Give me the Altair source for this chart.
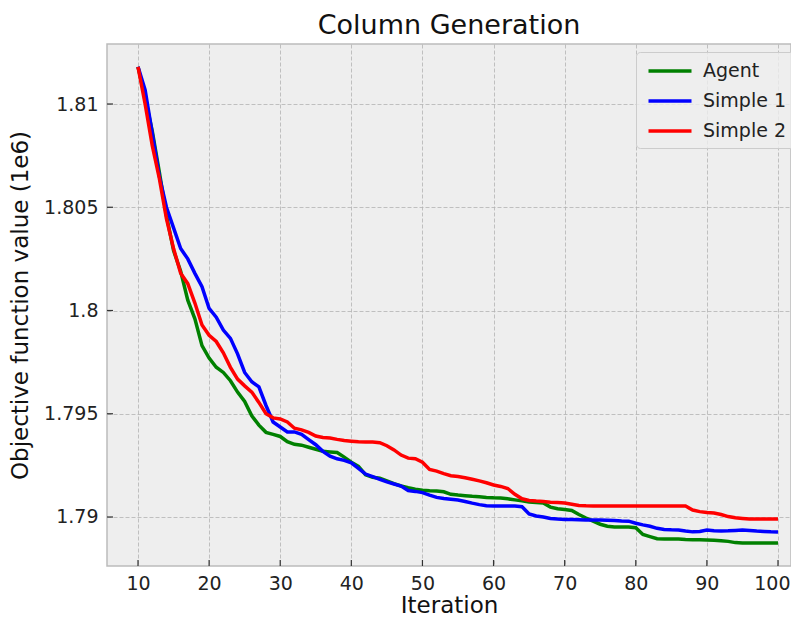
import altair as alt
import pandas as pd

iterations = list(range(10, 101))

agent = [1.81180, 1.81030, 1.80870, 1.80670, 1.80460, 1.80290, 1.80190, 1.80050, 1.79960, 1.79830,
         1.79770, 1.79725, 1.79700, 1.79660, 1.79605, 1.79560, 1.79490, 1.79445, 1.79410, 1.79400,
         1.79390, 1.79365, 1.79352, 1.79348, 1.79338, 1.79328, 1.79318, 1.79315, 1.79312, 1.79290,
         1.79265, 1.79245, 1.79205, 1.79192, 1.79188, 1.79175, 1.79162, 1.79150, 1.79142, 1.79135,
         1.79130, 1.79127, 1.79126, 1.79122, 1.79110, 1.79106, 1.79103, 1.79100, 1.79098, 1.79095,
         1.79093, 1.79092, 1.79088, 1.79083, 1.79078, 1.79073, 1.79070, 1.79068, 1.79048, 1.79040,
         1.79036, 1.79032, 1.79012, 1.78995, 1.78980, 1.78965, 1.78955, 1.78952, 1.78952, 1.78952,
         1.78948, 1.78915, 1.78905, 1.78895, 1.78893, 1.78893, 1.78893, 1.78891, 1.78890, 1.78890,
         1.78889, 1.78887, 1.78885, 1.78882, 1.78876, 1.78874, 1.78874, 1.78874, 1.78874, 1.78874, 1.78874]

simple1 = [1.81180, 1.81068, 1.80860, 1.80650, 1.80500, 1.80400, 1.80300, 1.80250, 1.80180, 1.80115,
           1.80010, 1.79968, 1.79905, 1.79865, 1.79790, 1.79700, 1.79655, 1.79630, 1.79540, 1.79460,
           1.79436, 1.79412, 1.79412, 1.79400, 1.79375, 1.79350, 1.79318, 1.79295, 1.79282, 1.79274,
           1.79262, 1.79235, 1.79208, 1.79195, 1.79182, 1.79170, 1.79160, 1.79150, 1.79128, 1.79124,
           1.79118, 1.79106, 1.79095, 1.79090, 1.79086, 1.79082, 1.79075, 1.79067, 1.79060, 1.79055,
           1.79053, 1.79053, 1.79053, 1.79053, 1.79050, 1.79015, 1.79005, 1.79000, 1.78993, 1.78990,
           1.78988, 1.78988, 1.78987, 1.78986, 1.78985, 1.78985, 1.78984, 1.78983, 1.78981, 1.78980,
           1.78970, 1.78962, 1.78955, 1.78945, 1.78940, 1.78938, 1.78937, 1.78932, 1.78928, 1.78930,
           1.78937, 1.78933, 1.78932, 1.78933, 1.78935, 1.78937, 1.78935, 1.78932, 1.78930, 1.78928, 1.78927]

simple2 = [1.81180, 1.81000, 1.80800, 1.80640, 1.80445, 1.80300, 1.80180, 1.80130, 1.80036, 1.79930,
           1.79880, 1.79850, 1.79795, 1.79725, 1.79668, 1.79635, 1.79605, 1.79555, 1.79500, 1.79480,
           1.79475, 1.79460, 1.79430, 1.79422, 1.79410, 1.79392, 1.79385, 1.79383, 1.79376, 1.79370,
           1.79367, 1.79364, 1.79363, 1.79363, 1.79360, 1.79345, 1.79325, 1.79300, 1.79285, 1.79282,
           1.79265, 1.79230, 1.79222, 1.79210, 1.79200, 1.79196, 1.79190, 1.79183, 1.79175, 1.79166,
           1.79155, 1.79148, 1.79138, 1.79110, 1.79088, 1.79080, 1.79077, 1.79075, 1.79072, 1.79070,
           1.79068, 1.79062, 1.79056, 1.79054, 1.79053, 1.79053, 1.79053, 1.79053, 1.79053, 1.79053,
           1.79053, 1.79053, 1.79053, 1.79053, 1.79053, 1.79053, 1.79053, 1.79053, 1.79034, 1.79026,
           1.79022, 1.79019, 1.79012, 1.79002, 1.78996, 1.78993, 1.78990, 1.78990, 1.78990, 1.78990, 1.78990]

series_names = ["Agent", "Simple 1", "Simple 2"]
series_colors = ["#008000", "#0000ff", "#ff0000"]
x_ticks = [10, 20, 30, 40, 50, 60, 70, 80, 90, 100]
y_ticks = [1.79, 1.795, 1.80, 1.805, 1.81]

rows = []
for name, vals in zip(series_names, [agent, simple1, simple2]):
    for it, v in zip(iterations, vals):
        rows.append({"iteration": it, "value": v, "series": name})
df = pd.DataFrame(rows)

W, H = 684, 522
x_scale = alt.Scale(domain=[5.64, 101.83], nice=False, zero=False)
y_scale = alt.Scale(domain=[1.787627, 1.812906], nice=False, zero=False)

x_axis = alt.Axis(values=x_ticks, title="Iteration", labelPadding=8, format="d",
                  labelFlush=15, labelFlushOffset=12,
                  titleBaseline="alphabetic", titleY=46)
y_axis = alt.Axis(values=y_ticks, title="Objective function value (1e6)", format=".3~f",
                  labelPadding=9, titlePadding=11)

lines = alt.Chart(df).mark_line(strokeWidth=3.5).encode(
    x=alt.X("iteration:Q", scale=x_scale, axis=x_axis),
    y=alt.Y("value:Q", scale=y_scale, axis=y_axis),
    color=alt.Color("series:N",
                    scale=alt.Scale(domain=series_names, range=series_colors),
                    legend=alt.Legend(title=None, orient="none", legendX=529, legendY=8,
                                      symbolType="M-2.15,0H2.15", symbolStrokeWidth=3.5,
                                      symbolSize=400, symbolOffset=15,
                                      labelFontSize=19, labelFont="DejaVu Sans", labelColor="#222222",
                                      rowPadding=8, labelOffset=21, padding=7,
                                      fillColor="rgba(238,238,238,0.8)", strokeColor="#cccccc",
                                      cornerRadius=4)),
)

xt = alt.Chart(pd.DataFrame({"iteration": x_ticks})).mark_rule(color="#333333", strokeWidth=1.2).encode(
    x=alt.X("iteration:Q", scale=x_scale, axis=x_axis),
    y=alt.value(H - 6), y2=alt.value(H),
)
yt = alt.Chart(pd.DataFrame({"value": y_ticks})).mark_rule(color="#333333", strokeWidth=1.2).encode(
    y=alt.Y("value:Q", scale=y_scale, axis=y_axis),
    x=alt.value(0), x2=alt.value(6),
)

chart = alt.layer(lines, xt, yt).properties(
    width=W, height=H,
    title=alt.TitleParams("Column Generation", fontSize=27, font="DejaVu Sans", fontWeight="normal",
                          color="#111111", offset=4),
    autosize=alt.AutoSizeParams(type="none"),
    padding={"left": 99, "top": 36, "right": 0, "bottom": 52},
).configure_view(
    fill="#eeeeee", stroke="#bcbcbc", strokeWidth=1.5
).configure_axis(
    domain=False, ticks=False,
    grid=True, gridColor="#b2b2b2", gridDash=[4, 2], gridWidth=0.8,
    labelFont="DejaVu Sans", labelFontSize=19, labelColor="#222222",
    titleFont="DejaVu Sans", titleFontSize=23, titleFontWeight="normal", titleColor="#111111",
)

chart.save("out.html", embed_options={"renderer": "svg", "actions": False})
